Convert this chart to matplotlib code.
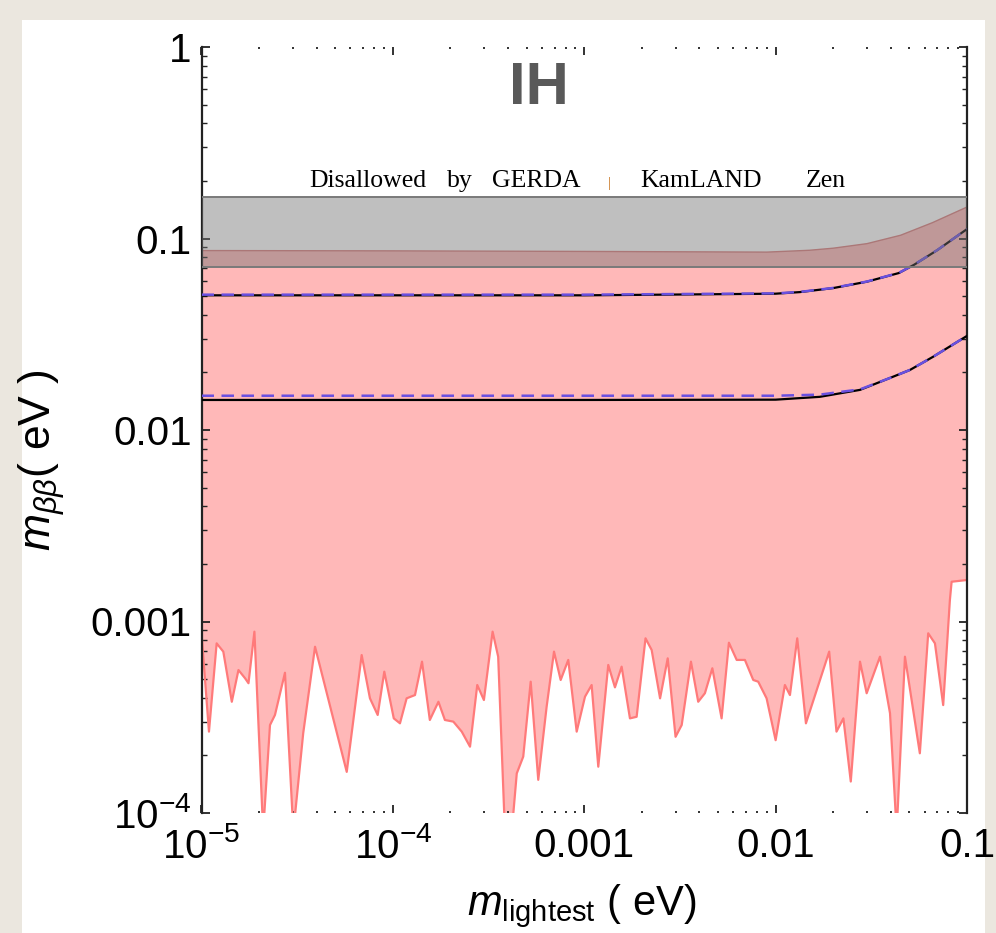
import numpy as np
import matplotlib
matplotlib.use("Agg")
import matplotlib.pyplot as plt
from matplotlib.patches import Rectangle

plt.rcParams['font.family'] = ['Liberation Sans', 'DejaVu Sans']
plt.rcParams['mathtext.fontset'] = 'custom'
plt.rcParams['mathtext.rm'] = 'Liberation Sans'
plt.rcParams['mathtext.it'] = 'Liberation Sans:italic'
plt.rcParams['mathtext.bf'] = 'Liberation Sans:bold'

# ---------------- data ----------------
# lower (jagged) boundary of the allowed region
x_low = [1.0e-5, 1.094e-5, 1.20e-5, 1.30e-5, 1.44e-5, 1.56e-5, 1.69e-5, 1.76e-5, 1.89e-5, 2.10e-5,
         2.28e-5, 2.42e-5, 2.73e-5, 3.02e-5, 3.40e-5, 3.92e-5, 5.74e-5, 6.87e-5, 7.59e-5, 8.33e-5,
         9.02e-5, 1.011e-4, 1.089e-4, 1.18e-4, 1.305e-4, 1.42e-4, 1.56e-4, 1.73e-4, 1.87e-4, 2.07e-4,
         2.29e-4, 2.53e-4, 2.76e-4, 2.99e-4, 3.32e-4, 3.55e-4, 3.85e-4, 4.18e-4, 4.44e-4, 4.80e-4,
         5.25e-4, 5.75e-4, 6.36e-4, 6.95e-4, 7.53e-4, 8.25e-4, 9.13e-4, 1.009e-3, 1.093e-3, 1.184e-3,
         1.335e-3, 1.447e-3, 1.568e-3, 1.733e-3, 1.878e-3, 2.09e-3, 2.25e-3, 2.49e-3, 2.73e-3, 3.00e-3,
         3.23e-3, 3.61e-3, 3.94e-3, 4.27e-3, 4.67e-3, 5.22e-3, 5.70e-3, 6.26e-3, 6.91e-3, 7.64e-3,
         8.11e-3, 8.97e-3, 1.00e-2, 1.118e-2, 1.188e-2, 1.297e-2, 1.44e-2, 1.905e-2, 2.08e-2, 2.26e-2,
         2.47e-2, 2.76e-2, 2.99e-2, 3.51e-2, 3.96e-2, 4.29e-2, 4.74e-2, 5.67e-2, 6.27e-2, 6.80e-2,
         7.51e-2, 8.14e-2, 8.31e-2, 0.1]
y_low = [8.68e-4, 2.66e-4, 7.69e-4, 6.96e-4, 3.81e-4, 5.58e-4, 5.05e-4, 4.76e-4, 8.85e-4, 8e-5,
         2.88e-4, 3.25e-4, 5.40e-4, 8e-5, 2.61e-4, 7.38e-4, 1.64e-4, 6.68e-4, 3.97e-4, 3.25e-4,
         5.47e-4, 3.12e-4, 2.94e-4, 3.97e-4, 4.13e-4, 6.17e-4, 3.06e-4, 3.81e-4, 3.06e-4, 3.00e-4,
         2.66e-4, 2.22e-4, 4.66e-4, 3.89e-4, 8.85e-4, 6.55e-4, 8e-5, 8e-5, 1.61e-4, 1.97e-4,
         4.85e-4, 1.49e-4, 3.59e-4, 6.96e-4, 4.95e-4, 6.30e-4, 2.66e-4, 4.05e-4, 4.66e-4, 1.745e-4,
         5.93e-4, 4.53e-4, 5.81e-4, 3.12e-4, 3.18e-4, 8.17e-4, 7.10e-4, 3.97e-4, 6.42e-4, 2.50e-4,
         2.88e-4, 6.17e-4, 3.81e-4, 4.22e-4, 5.70e-4, 3.12e-4, 7.75e-4, 6.30e-4, 6.30e-4, 4.95e-4,
         4.85e-4, 3.97e-4, 2.40e-4, 4.66e-4, 4.13e-4, 8.17e-4, 2.94e-4, 6.96e-4, 2.66e-4, 3.12e-4,
         1.46e-4, 6.17e-4, 4.22e-4, 6.55e-4, 3.32e-4, 8e-5, 6.55e-4, 2.05e-4, 8.68e-4, 7.69e-4,
         3.66e-4, 1.295e-3, 1.613e-3, 1.647e-3]

# upper boundary of the allowed region
x_up = [1e-5, 1e-4, 1e-3, 5e-3, 9e-3, 1.5e-2, 2e-2, 3e-2, 4.5e-2, 6.6e-2, 0.1]
y_up = [0.0865, 0.0862, 0.0856, 0.0851, 0.0849, 0.0868, 0.089, 0.094, 0.104, 0.121, 0.146]

# black curves
x_blk_up = [1e-5, 1e-3, 1e-2, 1.34e-2, 2e-2, 3e-2, 4.4e-2, 5.3e-2, 7e-2, 0.1]
y_blk_up = [0.0505, 0.0505, 0.0515, 0.0525, 0.0551, 0.0595, 0.066, 0.073, 0.087, 0.112]
x_blk_lo = [1e-5, 1e-3, 1e-2, 1.7e-2, 2.76e-2, 3.96e-2, 5.04e-2, 6.64e-2, 0.1]
y_blk_lo = [0.01435, 0.01435, 0.0144, 0.0149, 0.0162, 0.0187, 0.0206, 0.0241, 0.031]

# blue dashed curves
x_blu_up = [1e-5, 1e-3, 1e-2, 1.34e-2, 2e-2, 3e-2, 4.4e-2, 5.3e-2, 7e-2, 0.1]
y_blu_up = [0.0509, 0.0509, 0.0517, 0.0526, 0.0552, 0.0596, 0.0661, 0.0731, 0.0871, 0.112]
x_blu_lo = [1e-5, 1e-3, 1e-2, 1.7e-2, 2.76e-2, 3.96e-2, 5.04e-2, 6.64e-2, 0.1]
y_blu_lo = [0.0151, 0.0151, 0.0151, 0.0153, 0.0163, 0.0187, 0.0206, 0.0241, 0.031]

# excluded band (GERDA / KamLAND-Zen)
band_lo, band_hi = 0.0707, 0.164

x_ticks = [1e-5, 1e-4, 1e-3, 1e-2, 1e-1]
x_ticklabels = [r'$10^{-5}$', r'$10^{-4}$', '0.001', '0.01', '0.1']
y_ticks = [1e-4, 1e-3, 1e-2, 1e-1, 1]
y_ticklabels = [r'$10^{-4}$', '0.001', '0.01', '0.1', '1']

# ---------------- figure ----------------
W, H = 996, 933
fig = plt.figure(figsize=(W / 100, H / 100), dpi=100, facecolor='#ebe7df')
fig.patches.append(Rectangle((22 / W, 0), (985 - 22) / W, (H - 20) / H,
                             transform=fig.transFigure, facecolor='white',
                             edgecolor='none', zorder=-10))

L, R, T, B = 201.5, 967, 47, 813
ax = fig.add_axes([L / W, 1 - B / H, (R - L) / W, (B - T) / H])
ax.set_zorder(1)
ax.set_facecolor('none')
ax.set_xscale('log')
ax.set_yscale('log')
ax.set_xlim(1e-5, 0.1)
ax.set_ylim(1e-4, 1)

# allowed region
ax.fill(np.concatenate([x_low, x_up[::-1]]), np.concatenate([y_low, y_up[::-1]]),
        facecolor='#ffb8b8', edgecolor='none', zorder=1)
ax.plot(x_low, y_low, color='#ff7a7a', lw=1.6, zorder=2)
ax.plot(x_up, y_up, color='#d97c7c', lw=1.0, zorder=2)

# curves
ax.plot(x_blk_up, y_blk_up, color='black', lw=1.6, zorder=3)
ax.plot(x_blk_lo, y_blk_lo, color='black', lw=1.6, zorder=3)
ax.plot(x_blu_up, y_blu_up, color='#6a50e0', lw=1.8, ls=(0, (5, 3)), zorder=4)
ax.plot(x_blu_lo, y_blu_lo, color='#6a50e0', lw=1.8, ls=(0, (5, 3)), zorder=4)

# excluded band
ax.axhspan(band_lo, band_hi, facecolor='#737373', alpha=0.45, edgecolor='none', zorder=5)
ax.axhline(band_lo, color='#7a7a7a', lw=1.4, zorder=6)
ax.axhline(band_hi, color='#7a7a7a', lw=1.4, zorder=6)

# texts
ax.text((539 - L) / (R - L), (B - 88) / (B - T), 'IH', transform=ax.transAxes,
        ha='center', va='center', fontsize=43, fontweight='bold', color='#595959', zorder=7)
words = [('Disallowed', 368, 'black'), ('by', 460, 'black'), ('GERDA', 536, 'black'),
         ('|', 609, '#c8741e'), ('KamLAND', 701, 'black'), ('Zen', 826, 'black')]
for w, xc, col in words:
    ax.text((xc - L) / (R - L), (B - 187) / (B - T), w, transform=ax.transAxes,
            ha='center', va='baseline', fontsize=18.5 if w != '|' else 11,
            family=['Liberation Serif', 'DejaVu Serif'], color=col, zorder=7)

# axes styling
for s in ['top', 'bottom']:
    ax.spines[s].set_visible(False)
for s in ['left', 'right']:
    ax.spines[s].set_linewidth(1.6)
    ax.spines[s].set_color('#222222')

ax.set_xticks(x_ticks)
ax.set_xticklabels(x_ticklabels)
ax.set_yticks(y_ticks)
ax.set_yticklabels(y_ticklabels)
ax.tick_params(which='both', direction='in', top=True, right=True, colors='#222222')
ax.tick_params(axis='y', which='major', length=6, width=1.3, pad=7, labelsize=29)
ax.tick_params(axis='y', which='minor', length=3.5, width=1.0)
ax.tick_params(axis='x', which='major', length=6, width=1.3, pad=10, labelsize=29)
ax.tick_params(axis='x', which='minor', length=1.5, width=1.3)
for lab in ax.get_xticklabels() + ax.get_yticklabels():
    lab.set_color('black')

fig.text(42 / W, 1 - 460 / H, r'$m_{\beta\beta}$( eV )', rotation=90,
         ha='center', va='center', fontsize=32)
fig.text(582 / W, 1 - 906 / H, r'$m_{\mathrm{lightest}}$ ( eV)',
         ha='center', va='center', fontsize=30)

fig.savefig('out.png', dpi=100, facecolor=fig.get_facecolor())
